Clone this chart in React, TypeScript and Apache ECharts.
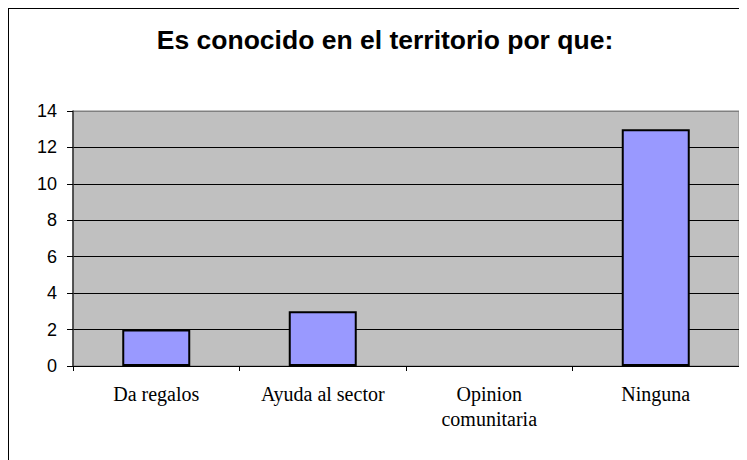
import React, { useEffect, useRef } from "react";
import * as echarts from "echarts";

const categories = ["Da regalos", "Ayuda al sector", "Opinion\ncomunitaria", "Ninguna"];
const values = [2, 3, 0, 13];
const yTicks = { min: 0, max: 14, interval: 2 };
const titleText = "Es conocido en el territorio por que:";

export default function App() {
  const ref = useRef<HTMLDivElement>(null);
  useEffect(() => {
    if (!ref.current) return;
    const chart = echarts.init(ref.current, undefined, { renderer: "svg" });
    const splitColors = ["#000000", "#000000", "#000000", "#000000", "#000000", "#000000", "#000000", "#808080"];
    chart.setOption({
      animation: false,
      backgroundColor: "#ffffff",
      graphic: [
        {
          type: "text",
          x: 376,
          y: 31,
          style: {
            text: titleText,
            font: "bold 26.5px 'Liberation Sans', Arial, sans-serif",
            fill: "#000000",
            textAlign: "center",
            textVerticalAlign: "middle",
          },
        },
      ],
      grid: {
        left: 64,
        top: 102,
        right: 8,
        bottom: 94,
        show: true,
        backgroundColor: "#C0C0C0",
        borderColor: "#808080",
        borderWidth: 1,
        containLabel: false,
      },
      xAxis: {
        type: "category",
        data: categories,
        boundaryGap: true,
        axisLine: { show: true, lineStyle: { color: "#000000", width: 1 } },
        axisTick: { show: true, alignWithLabel: false, length: 5, lineStyle: { color: "#000000" } },
        axisLabel: {
          interval: 0,
          margin: 15,
          color: "#000000",
          fontFamily: "'Liberation Serif', 'Times New Roman', serif",
          fontSize: 20,
          lineHeight: 25,
        },
        splitLine: { show: false },
      },
      yAxis: {
        type: "value",
        min: yTicks.min,
        max: yTicks.max,
        interval: yTicks.interval,
        axisLine: { show: true, lineStyle: { color: "#333333", width: 1.5 } },
        axisTick: { show: true, length: 6, lineStyle: { color: "#000000" } },
        axisLabel: {
          margin: 16,
          color: "#000000",
          fontFamily: "'Liberation Sans', Arial, sans-serif",
          fontSize: 18,
        },
        splitLine: { show: true, lineStyle: { color: splitColors, width: 1 } },
      },
      series: [
        {
          type: "bar",
          data: values.map((v) => ({ value: v, itemStyle: v === 0 ? { borderWidth: 0 } : undefined })),
          barWidth: 68,
          itemStyle: { color: "#9999FF", borderColor: "#000000", borderWidth: 2 },
        },
      ],
    });
    return () => chart.dispose();
  }, []);
  return (
    <div style={{ width: 738, height: 451, borderLeft: "1px solid #000", borderTop: "1px solid #000" }}>
      <div ref={ref} style={{ width: 738, height: 451 }} />
    </div>
  );
}
